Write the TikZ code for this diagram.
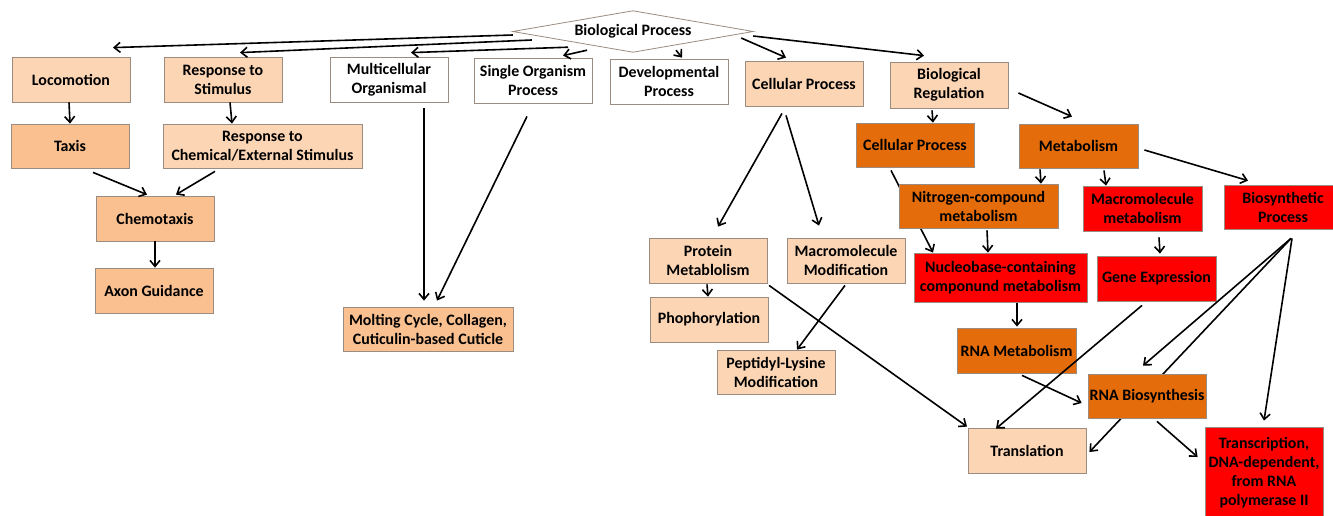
\documentclass[tikz,border=0pt]{standalone}
\usepackage{fontspec}
\setmainfont{Carlito}
\usetikzlibrary{arrows.meta,calc}
\pgfdeclarelayer{back}
\pgfdeclarelayer{bg}
\pgfsetlayers{back,bg,main}
\definecolor{lightp}{HTML}{FCD5B5}
\definecolor{midp}{HTML}{FAC090}
\definecolor{orng}{HTML}{E46C0A}
\definecolor{redc}{HTML}{FF0000}
\definecolor{bord}{HTML}{9A8C80}
\tikzset{
  box/.style={draw=bord, line width=0.8pt, minimum width=118pt, minimum height=45pt,
    inner sep=1pt, align=center, font=\fontsize{15.9}{19}\selectfont\bfseries, anchor=center},
  lt/.style={box, fill=lightp},
  md/.style={box, fill=midp},
  og/.style={box, fill=orng},
  rd/.style={box, fill=redc},
  wt/.style={box, fill=white},
  arr/.style={line width=1.6pt, -{Straight Barb[length=6pt,width=10pt]}},
  ln/.style={line width=1.6pt}
}
\begin{document}
\begin{tikzpicture}[x=1pt,y=-1pt]
\useasboundingbox (0,0) rectangle (1333,515);
\begin{pgfonlayer}{back}
\fill[white] (0,0) rectangle (1333,515);
\end{pgfonlayer}
% diamond
\node[minimum width=240pt, minimum height=41pt, inner sep=0pt] (bp) at (633,31.5) {};
\draw[draw=bord, line width=0.8pt, fill=white] (bp.west) -- (bp.north) -- (bp.east) -- (bp.south) -- cycle;
\node[font=\fontsize{15.9}{19}\selectfont\bfseries] (bpt) at (bp.center) {Biological Process};
% top row
\node[lt] (loc) at (71,79.5) {Locomotion};
\node[lt] (rts) at (223,79.5) {Response to\\Stimulus};
\node[wt] (mco) at (389,79.5) {Multicellular\\Organismal};
\node[wt] (sop) at (533,80.5) {Single Organism\\Process};
\node[wt] (dev) at (669,81.5) {Developmental\\Process};
\node[lt] (cpt) at (804,83.5) {Cellular Process};
\node[lt, minimum height=46pt] (breg) at (949,85) {Biological\\Regulation};
% left part
\node[md, minimum height=44pt] (tax) at (70,146) {Taxis};
\node[lt, minimum width=199pt, minimum height=44pt] (rcs) at (262.5,146) {Response to\\Chemical/External Stimulus};
\node[md] (che) at (155,218.5) {Chemotaxis};
\node[md] (axg) at (154,290.5) {Axon Guidance};
\node[md, minimum width=170pt, minimum height=44pt] (mol) at (428,329) {Molting Cycle, Collagen,\\Cuticulin-based Cuticle};
% right part
\node[og, minimum height=44pt] (cpo) at (915,145) {Cellular Process};
\node[og, minimum width=119pt, minimum height=44pt] (met) at (1078.5,146) {Metabolism};
\node[og, minimum width=159pt, minimum height=44pt] (nit) at (978.5,206) {Nitrogen-compound\\metabolism};
\node[rd, minimum width=119pt] (mmm) at (1142.5,208.5) {Macromolecule\\metabolism};
\node[rd, minimum height=44pt] (bio) at (1283,207) {Biosynthetic\\Process};
\node[lt] (prm) at (708,260.5) {Protein\\Metablolism};
\node[lt] (mmo) at (846,260.5) {Macromolecule\\Modification};
\node[lt] (pho) at (709,319.5) {Phophorylation};
\node[lt, minimum height=44pt] (pep) at (776,372) {Peptidyl-Lysine\\Modification};
\node[rd, minimum width=173pt, minimum height=49pt] (nuc) at (1000.5,277.5) {Nucleobase-containing\\componund metabolism};
\node[rd, minimum width=119pt] (gex) at (1156.5,278.5) {Gene Expression};
\node[og, minimum width=119pt] (rnm) at (1016.5,350.5) {RNA Metabolism};
\node[og, minimum height=44pt] (rnb) at (1147,396) {RNA Biosynthesis};
\node[lt] (trl) at (1027,450.5) {Translation};
\node[rd, minimum height=91pt] (trs) at (1264,472.5) {Transcription,\\DNA-dependent,\\from RNA\\polymerase II};
% edges behind boxes
\begin{pgfonlayer}{bg}
\draw[arr] ($(cpo.south)+(-24,3)$) -- ($(nuc.north)+(-67.5,0)$);
\draw[arr] ($(bio.south)+(8,9)$) -- ($(trl.east)+(3,1.5)$);
\end{pgfonlayer}
% edges from Biological Process
\draw[arr] ($(bp.west)+(0,3.5)$) -- ($(loc.north)+(42,-9)$);
\draw[arr] ($(bp.west)+(19,8.5)$) -- ($(rts.north)+(17,-4)$);
\draw[arr] ($(bp.south)+(-65,-5)$) -- ($(mco.north)+(22,-4)$);
\draw[arr] ($(bp.south)+(-46,-2)$) -- ($(sop.north)+(30,-2)$);
\draw[arr] ($(bp.south)+(43,-2)$) -- ($(dev.north)+(13,-1)$);
\draw[arr] ($(bp.east)+(-12,6.5)$) -- ($(cpt.north)+(-18,-3)$);
\draw[arr] ($(bp.east)+(0,4.5)$) -- ($(breg.north)+(-25,-6)$);
% left edges
\draw[arr] ($(loc.south)+(-2,0)$) -- (tax.north);
\draw[arr] ($(rts.south)+(7,0)$) -- ($(rcs.north)+(-30.5,0)$);
\draw[arr] ($(tax.south)+(23,4)$) -- ($(che.north)+(-8,-1)$);
\draw[arr] ($(rcs.south)+(-47.5,3)$) -- ($(che.north)+(21,-1)$);
\draw[arr] (che.south) -- ($(axg.north)+(1,0)$);
\draw[arr] ($(mco.south)+(35,6)$) -- ($(mol.north)+(-4,-6)$);
\draw[arr] ($(sop.south)+(-6,13)$) -- ($(mol.north)+(9,-6)$);
% middle edges
\draw[arr] ($(cpt.south)+(-22,7)$) -- ($(prm.north)+(10,-11)$);
\draw[arr] ($(cpt.south)+(-18,9)$) -- ($(mmo.north)+(-27,-12)$);
\draw[arr] ($(prm.south)+(-1,1)$) -- ($(pho.north)+(-1,0)$);
\draw[arr] ($(mmo.south)+(-1,2)$) -- ($(pep.north)+(21,0)$);
\draw[arr] ($(prm.south)+(61,2)$) -- ($(trl.north)+(-60,-1)$);
% right edges
\draw[arr] ($(breg.south)+(-17,2)$) -- ($(cpo.north)+(18,0)$);
\draw[arr] ($(breg.east)+(10,8)$) -- ($(met.north)+(-6.5,-7)$);
\draw[arr] ($(met.south)+(-38.5,1)$) -- ($(nit.north)+(62.5,0)$);
\draw[arr] ($(met.south)+(25.5,2)$) -- ($(mmm.north)+(-36.5,0)$);
\draw[arr] ($(met.east)+(6,4)$) -- ($(bio.north)+(-35,-4)$);
\draw[arr] ($(nit.south)+(8.5,2)$) -- ($(nuc.north)+(-12.5,0)$);
\draw[arr] ($(mmm.south)+(16.5,6)$) -- ($(gex.north)+(3.5,-2)$);
\draw[arr] ($(nuc.south)+(16.5,1)$) -- ($(rnm.north)+(0.5,-1)$);
\draw[arr] ($(gex.south)+(-14.5,4)$) -- ($(trl.north)+(-31,1)$);
\draw[arr] ($(rnm.south)+(5.5,2)$) -- ($(rnb.west)+(-6,7)$);
\draw[arr] ($(bio.south)+(8,9)$) -- ($(rnb.north)+(-4,-8)$);
\draw[arr] ($(bio.south)+(9,9)$) -- ($(trs.north)+(0,-6)$);
\draw[arr] ($(rnb.south)+(10,3)$) -- ($(trs.west)+(-7,-15.5)$);
\end{tikzpicture}
\end{document}
